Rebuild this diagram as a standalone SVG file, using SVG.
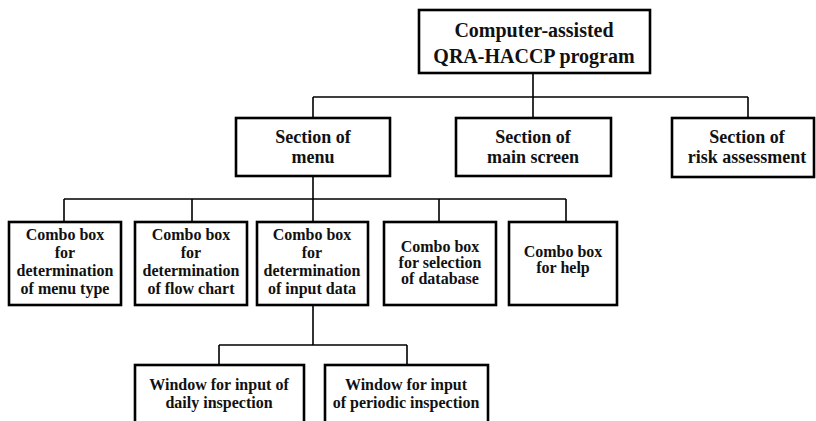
<svg xmlns="http://www.w3.org/2000/svg" width="816" height="421" viewBox="0 0 816 421">
<style>
.box{fill:#fff;stroke:#000;stroke-width:2.6}
.c{fill:none;stroke:#000;stroke-width:1.6}
text{font-family:"Liberation Serif","Times New Roman",serif;font-weight:bold;fill:#111;text-anchor:middle}
.t1{font-size:20px}
.t2{font-size:18px}
.t3{font-size:16px}
</style>
<rect width="816" height="421" fill="#fff"/>
<g id="connectors">
<path class="c" d="M533 73V118M313 97H748M313 97V118M748 97V118"/>
<path class="c" d="M313 176V199M64 199H566M64 199V222M192 199V222M313 199V222M439 199V222M566 199V222"/>
<path class="c" d="M313 305V345M219 345H407M219 345V365M407 345V365"/>
</g>
<g id="n-root"><rect class="box" x="419" y="10" width="231" height="63"/>
<text class="t1" x="534" y="37">Computer-assisted</text><text class="t1" x="534" y="63">QRA-HACCP program</text></g>
<g id="n-menu"><rect class="box" x="236" y="118" width="154" height="58"/>
<text class="t2" x="313" y="143">Section of</text><text class="t2" x="313" y="163">menu</text></g>
<g id="n-main"><rect class="box" x="456" y="118" width="155" height="58"/>
<text class="t2" x="533" y="143">Section of</text><text class="t2" x="533" y="163">main screen</text></g>
<g id="n-risk"><rect class="box" x="672" y="118" width="142" height="59"/>
<text class="t2" x="747" y="143">Section of</text><text class="t2" x="747" y="163">risk assessment</text></g>
<g id="n-menutype"><rect class="box" x="9" y="222" width="112" height="83"/>
<text class="t3" x="65" y="240">Combo box</text><text class="t3" x="65" y="258">for</text><text class="t3" x="65" y="276">determination</text><text class="t3" x="65" y="294">of menu type</text></g>
<g id="n-flow"><rect class="box" x="135" y="222" width="112" height="83"/>
<text class="t3" x="191" y="240">Combo box</text><text class="t3" x="191" y="258">for</text><text class="t3" x="191" y="276">determination</text><text class="t3" x="191" y="294">of flow chart</text></g>
<g id="n-input"><rect class="box" x="257" y="222" width="111" height="83"/>
<text class="t3" x="312" y="240">Combo box</text><text class="t3" x="312" y="258">for</text><text class="t3" x="312" y="276">determination</text><text class="t3" x="312" y="294">of input data</text></g>
<g id="n-db"><rect class="box" x="384" y="222" width="112" height="83"/>
<text class="t3" x="440" y="252">Combo box</text><text class="t3" x="440" y="268">for selection</text><text class="t3" x="440" y="284">of database</text></g>
<g id="n-help"><rect class="box" x="509" y="222" width="108" height="83"/>
<text class="t3" x="563" y="257">Combo box</text><text class="t3" x="563" y="273">for help</text></g>
<g id="n-daily"><rect class="box" x="135" y="365" width="169" height="62"/>
<text class="t3" x="219" y="390">Window for input of</text><text class="t3" x="219" y="408">daily inspection</text></g>
<g id="n-periodic"><rect class="box" x="325" y="365" width="163" height="62"/>
<text class="t3" x="406" y="390">Window for input</text><text class="t3" x="406" y="408">of periodic inspection</text></g>
</svg>
